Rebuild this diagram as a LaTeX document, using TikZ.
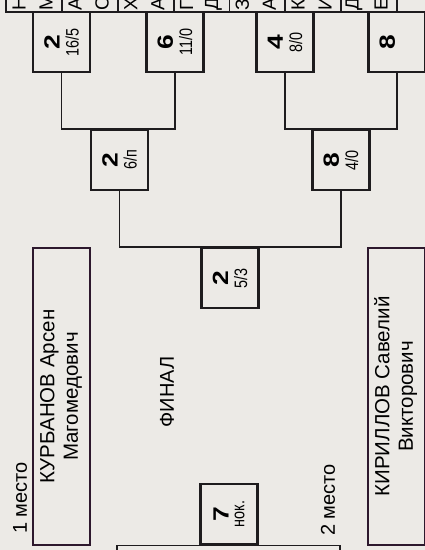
\documentclass[tikz,border=0pt]{standalone}
\usepackage{fontspec}
\setmainfont{Liberation Sans}
\definecolor{bumaga}{RGB}{236,234,230}
\definecolor{chernila}{RGB}{30,28,30}

% номер победителя и счёт, повёрнуто
\newcommand{\rez}[2]{\rotatebox{90}{\shortstack[c]{{\fontsize{22}{22}\selectfont\bfseries\scalebox{1.2}[1]{#1}}\\[3pt]{\fontsize{18}{18}\selectfont\scalebox{0.8}[1]{#2}}}}}
% фамилия, имя / отчество
\newcommand{\fio}[2]{\rotatebox{90}{\begin{tabular}{@{}c@{}}#1\\#2\end{tabular}}}

\begin{document}
\begin{tikzpicture}[
        x=1pt, y=-1pt,
        boi/.style={draw=chernila, line width=2.2pt, fill=bumaga, minimum width=57pt, minimum height=60pt, inner sep=0pt},
        imya/.style={draw=chernila!85!violet, line width=2pt, fill=bumaga, minimum width=57pt, minimum height=297pt, inner sep=0pt, font=\fontsize{20.5}{23.5}\selectfont},
        ramka/.style={draw=chernila, line width=1.8pt},
        liniya/.style={draw=chernila, line width=1.2pt},
        podpis/.style={rotate=90, inner sep=0pt, font=\fontsize{20}{23}\selectfont},
        bukva/.style={rotate=90, anchor=west, inner sep=0pt, font=\fontsize{19}{23}\selectfont}
    ]

        \useasboundingbox (0,0) rectangle (425,550);
        \clip (0,0) rectangle (425,550);
        \fill[bumaga] (0,0) rectangle (425,550);

        % ==================================================
        % УЧАСТНИКИ (обрезаны сверху)
        % ==================================================

        \foreach \k/\a/\b in {0/Н/М, 1/А/С, 2/Х/А, 3/Г/Д, 4/З/А, 5/К/И, 6/Д/Е, 7//} {
            \pgfmathsetmacro{\xl}{6.2+55.8*\k}
            \draw[ramka] (\xl,-20) rectangle ++(55.8,32);
            \node[bukva] (u\k a) at (\xl+13,11) {\a};
            \node[bukva] (u\k b) at (\xl+40,11) {\b};
        }

        % ==================================================
        % СХВАТКИ
        % ==================================================

        % Первый круг
        \node[boi] (a1) at (61.5,42) {\rez{2}{16/5}};
        \node[boi] (a2) at (175,42)  {\rez{6}{11/0}};
        \node[boi] (a3) at (285,42)  {\rez{4}{8/0}};
        \node[boi] (a4) at (397,42)  {\rez{8}{\phantom{0/0}}};

        % Полуфинал
        \node[boi] (b1) at (119.5,160) {\rez{2}{6/п}};
        \node[boi] (b2) at (341,160)   {\rez{8}{4/0}};

        % Финал и схватка за третье место
        \node[boi] (fin) at (230,278) {\rez{2}{5/3}};
        \node[boi] (tri) at (229,514) {\rez{7}{нок.}};

        \coordinate (z1) at (117,560);
        \coordinate (z2) at (340,560);

        % Линии
        \draw[liniya] (a1) |- (b1.north) -| (a2);
        \draw[liniya] (a3) |- (b2.north) -| (a4);
        \draw[liniya] (b1) |- (fin.north) -| (b2);
        \draw[liniya] (z1) |- (tri.south) -| (z2);

        % ==================================================
        % ПРИЗЁРЫ
        % ==================================================

        \node[imya] (pervyi) at (61.5,396.5)  {\fio{КУРБАНОВ Арсен}{Магомедович}};
        \node[imya] (vtoroi) at (396.5,396.5) {\fio{КИРИЛЛОВ Савелий}{Викторович}};

        \node[podpis] (m1) at (20,498)    {1 место};
        \node[podpis] (m2) at (328,500)   {2 место};
        \node[podpis] (final) at (167,392) {ФИНАЛ};

    \end{tikzpicture}
\end{document}
